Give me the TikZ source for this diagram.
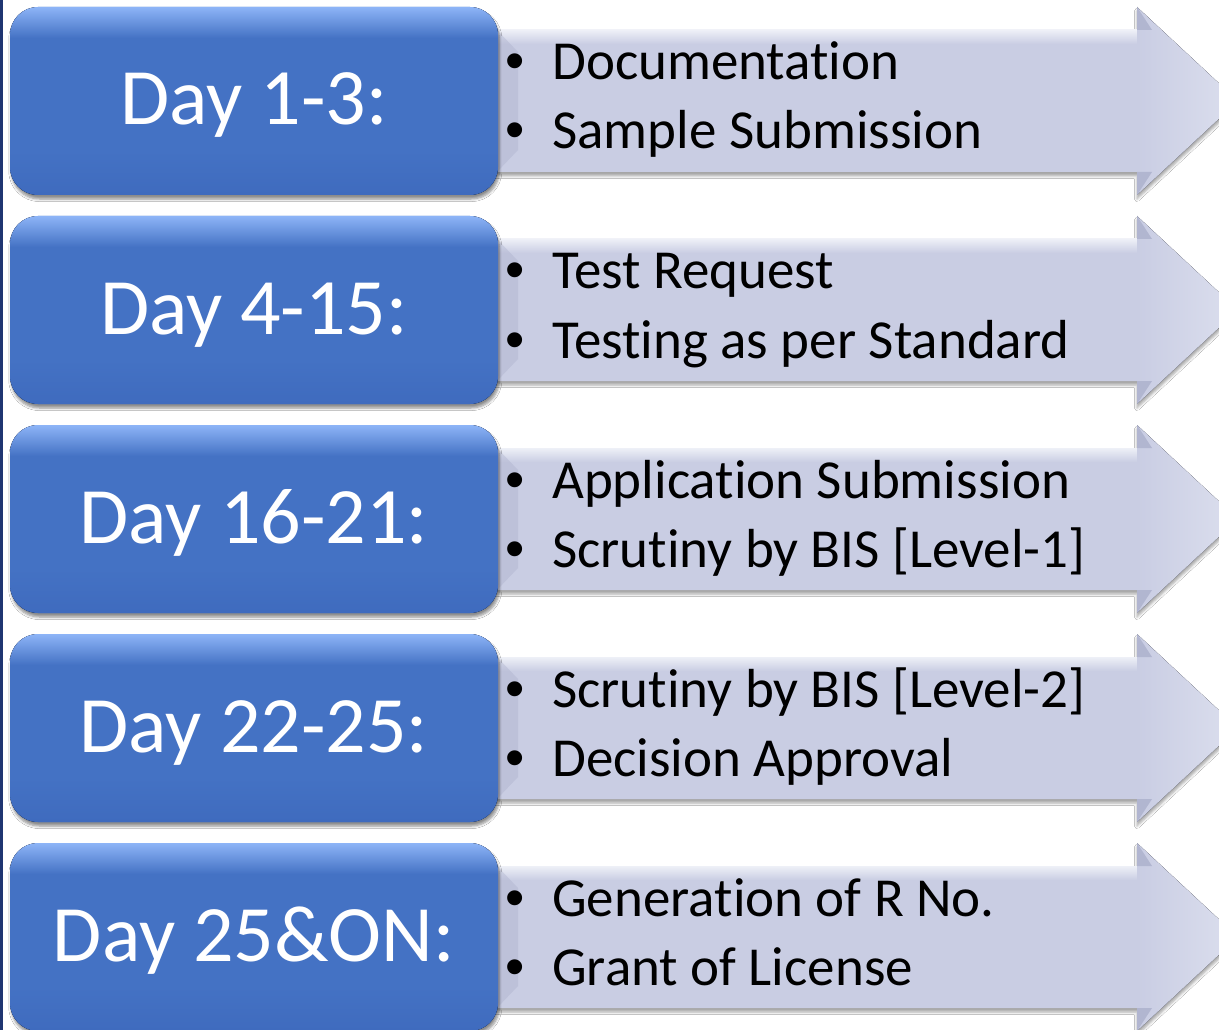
\documentclass[tikz,border=0pt]{standalone}
\usepackage{fontspec}
\setmainfont[RawFeature={-liga,-clig,-calt,-dlig,-rlig}]{Carlito}
\newfontfamily\bulletfont{Liberation Sans}
\usetikzlibrary{shadows,shadows.blur}
\newcommand{\nolig}{\kern0pt{}}
\definecolor{boxblue}{HTML}{4472C4}
\definecolor{boxtop}{HTML}{8DB4F7}
\definecolor{boxbot}{HTML}{3F6BBE}
\definecolor{arrowfill}{HTML}{C9CDE3}
\definecolor{arrowlight}{HTML}{EEF0F7}
\definecolor{arrowtip}{HTML}{DCDFEE}
\definecolor{arrowdark}{HTML}{A7ACC8}
\definecolor{edgenavy}{HTML}{1F3571}
\tikzset{
  daybox/.style={fill=boxblue, rounded corners=21pt,
    blur shadow={shadow xshift=1pt, shadow yshift=-3pt, shadow blur steps=6, shadow opacity=45}},
  arrowshape/.style={fill=arrowfill,
    blur shadow={shadow xshift=0pt, shadow yshift=-3pt, shadow blur steps=4, shadow opacity=35}},
  daytext/.style={text=white, inner sep=0pt, anchor=base, font=\fontsize{60}{72}\selectfont},
  itemtext/.style={text=black, inner sep=0pt, anchor=base west, font=\fontsize{41.25}{50}\selectfont},
  bullettext/.style={text=black, inner sep=0pt, anchor=base, font=\bulletfont\fontsize{41.25}{50}\selectfont}
}
\begin{document}
\begin{tikzpicture}[x=0.75pt,y=-0.75pt]
\useasboundingbox (0,0) rectangle (1219,1030);
\clip (0,0) rectangle (1219,1030);
\fill[white] (0,0) rectangle (1219,1030);
\foreach \i/\day/\la/\lb in {
  0/Day 1-3:/Documentat\nolig ion/Sample Submission,
  1/Day 4-15:/Test Request/Test\nolig ing as per Standard,
  2/Day 16-21:/Applicat\nolig ion Submission/Scrut\nolig iny by BIS [Level-1],
  3/Day 22-25:/Scrut\nolig iny by BIS [Level-2]/Decision Approval,
  4/Day 25\&ON:/Generat\nolig ion of R No./Grant of License}{
  \pgfmathsetmacro\yo{209*\i}
  \begin{scope}[shift={(0,\yo)}]
    % arrow
    \path[arrowshape] (470,30) -- (1137,30) -- (1137,7) -- (1238,101) -- (1137,195) -- (1137,172) -- (470,172) -- cycle;
    \fill[top color=arrowlight, bottom color=arrowfill] (470,30) rectangle (1137,44);
    \fill[left color=arrowfill, right color=arrowtip] (1137,30) -- (1137,7) -- (1238,101) -- (1137,195) -- (1137,172) -- cycle;
    \fill[arrowdark, opacity=0.7] (1137,7) -- (1152,30) -- (1137,30) -- cycle;
    \fill[arrowdark, opacity=0.7] (1137,195) -- (1152,172) -- (1137,172) -- cycle;
    \fill[arrowdark, opacity=0.35] (497,30) -- (518,52) -- (518,150) -- (497,172) -- cycle;
    % blue box
    \path[daybox] (10,7) rectangle (498,195);
    \begin{scope}
      \clip[rounded corners=21pt] (10,7) rectangle (498,195);
      \fill[top color=boxtop, bottom color=boxblue] (10,7) rectangle (498,38);
      \fill[top color=boxblue, bottom color=boxbot] (10,150) rectangle (498,195);
    \end{scope}
    \node[daytext] (day\i) at (254,125) {\day};
    \node[bullettext] (ba\i) at (515,80) {•};
    \node[itemtext] (la\i) at (552,80) {\la};
    \node[bullettext] (bb\i) at (515,149) {•};
    \node[itemtext] (lb\i) at (552,149) {\lb};
  \end{scope}
}
\fill[edgenavy] (0,0) rectangle (3,1030);
\end{tikzpicture}
\end{document}
